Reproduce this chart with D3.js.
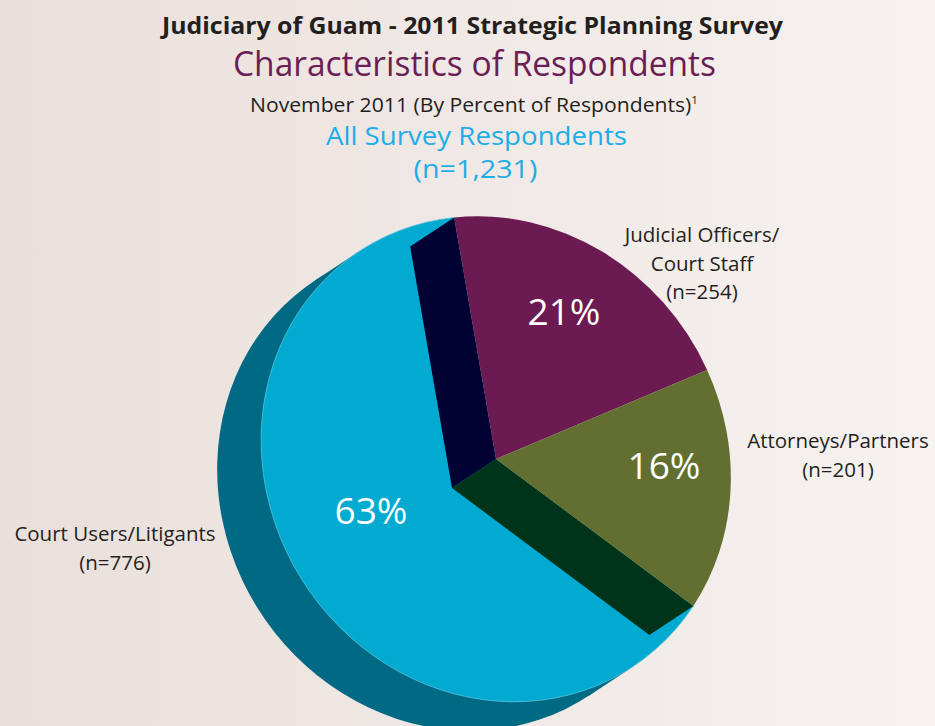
<meta charset="utf-8">
<head>
  <script src="https://d3js.org/d3.v7.min.js"></script>
  <style>
    body { margin: 0; background: #f1ebe8; }
    svg { display: block; }
    text { font-family: "Open Sans", "Noto Sans", sans-serif; }
  </style>
</head>
<body>
  <svg id="svg" width="935" height="726"></svg>
  <script>
    // data, in the order the pie runs clockwise from the top
    const groups = ["Judicial Officers/Court Staff", "Attorneys/Partners", "Court Users/Litigants"];
    const counts = [254, 201, 776];
    const percentLabels = ["21%", "16%", "63%"];
    const nameLines = [
      ["Judicial Officers/", "Court Staff", "(n=254)"],
      ["Attorneys/Partners", "(n=201)"],
      ["Court Users/Litigants", "(n=776)"]
    ];

    const faceColors = ["#6b1a52", "#636f30", "#00aad1"];
    const wallColors = { start: "#000033", end: "#00341a", rim: "#006a84" };

    const width = 935, height = 726;
    const cx = 496, cy = 459, radius = 248.7;
    const tilt = -33.4;           // direction the disk is squashed in (deg)
    const squash = 0.919;
    const depth = -52.7;          // extrusion length along that direction

    const t = tilt * Math.PI / 180;
    const e = [Math.cos(t), Math.sin(t)];
    const w = [-Math.sin(t), Math.cos(t)];
    const d = [depth * e[0], depth * e[1]];

    // pie angle + radius -> screen point, relative to the centre
    function proj(a, r) {
      const x = r * Math.sin(a), y = -r * Math.cos(a);
      const k = (squash - 1) * (e[0] * x + e[1] * y);
      return [x + k * e[0], y + k * e[1]];
    }
    const ellipse = `rotate(${tilt}) scale(${squash},1) rotate(${-tilt})`;

    let svg = d3.select("#svg");

    let grad = svg.append("defs").append("linearGradient")
      .attr("id", "bg").attr("x1", 0).attr("x2", 1).attr("y1", 0).attr("y2", 0);
    grad.append("stop").attr("offset", 0).attr("stop-color", "#eadfda");
    grad.append("stop").attr("offset", 1).attr("stop-color", "#f6f2f0");
    svg.append("rect").attr("width", width).attr("height", height).attr("fill", "url(#bg)");

    // titles
    let head = svg.append("g").attr("text-anchor", "middle");
    head.append("text").attr("x", 472.5).attr("y", 34)
      .attr("font-size", 23).attr("font-weight", 700).attr("fill", "#231f20")
      .attr("textLength", 621).attr("lengthAdjust", "spacingAndGlyphs")
      .text("Judiciary of Guam - 2011 Strategic Planning Survey");
    head.append("text").attr("x", 474.5).attr("y", 76)
      .attr("font-size", 34).attr("fill", "#6b1d55")
      .attr("textLength", 483).attr("lengthAdjust", "spacingAndGlyphs")
      .text("Characteristics of Respondents");
    let nov = head.append("text").attr("x", 474).attr("y", 111.5)
      .attr("font-size", 20).attr("fill", "#231f20")
      .attr("textLength", 448).attr("lengthAdjust", "spacingAndGlyphs");
    nov.append("tspan").text("November 2011 (By Percent of Respondents)");
    nov.append("tspan").attr("dy", -8).attr("font-size", 11).text("1");
    head.append("text").attr("x", 476.5).attr("y", 145)
      .attr("font-size", 26).attr("fill", "#1eade6")
      .attr("textLength", 301).attr("lengthAdjust", "spacingAndGlyphs")
      .text("All Survey Respondents");
    head.append("text").attr("x", 475.5).attr("y", 178)
      .attr("font-size", 26).attr("fill", "#1eade6")
      .attr("textLength", 124).attr("lengthAdjust", "spacingAndGlyphs")
      .text("(n=1,231)");

    // pie
    const start = -8 * Math.PI / 180;
    let pie = d3.pie().sort(null).startAngle(start).endAngle(start + 2 * Math.PI);
    let slices = pie(counts);
    let arc = d3.arc().innerRadius(0).outerRadius(radius);
    let big = slices[2];

    let g = svg.append("g").attr("transform", `translate(${cx},${cy})`);

    // rim of the big slice: back face plus the band joining it to the front
    const A = [-radius * w[0], -radius * w[1]], B = [radius * w[0], radius * w[1]];
    g.append("path")
      .attr("d", d3.line()([A, B, [B[0] + d[0], B[1] + d[1]], [A[0] + d[0], A[1] + d[1]]]))
      .attr("fill", wallColors.rim);
    g.append("g").attr("transform", `translate(${d[0]},${d[1]}) ${ellipse}`)
      .append("path").attr("d", arc(big)).attr("fill", wallColors.rim);

    // front face of the big slice
    g.append("g").attr("transform", ellipse)
      .append("path").attr("d", arc(big)).attr("fill", faceColors[2])
      .attr("stroke", "#5cc4de").attr("stroke-width", 0.8);

    // side walls
    const P1 = proj(slices[0].startAngle, radius);
    const P2 = proj(slices[1].endAngle, radius);
    g.append("path")
      .attr("d", d3.line()([P1, [0, 0], d, [P1[0] + d[0], P1[1] + d[1]]]))
      .attr("fill", wallColors.start);
    g.append("path")
      .attr("d", d3.line()([P2, [0, 0], d, [P2[0] + d[0], P2[1] + d[1]]]))
      .attr("fill", wallColors.end);

    // the two smaller slices
    g.append("g").attr("transform", ellipse)
      .selectAll("path")
      .data(slices.slice(0, 2))
      .enter().append("path")
      .attr("d", arc)
      .attr("fill", (s, i) => faceColors[i]);

    // percent labels
    const pctPos = [[564, 325], [664, 479], [371, 524]];
    svg.append("g").attr("text-anchor", "middle")
      .selectAll("text")
      .data(percentLabels)
      .enter().append("text")
      .attr("x", (s, i) => pctPos[i][0])
      .attr("y", (s, i) => pctPos[i][1])
      .attr("font-size", 37).attr("fill", "#ffffff")
      .text(s => s);

    // outside category labels
    const namePos = [[702, 242], [838, 448], [115, 541]];
    let names = svg.append("g").attr("text-anchor", "middle")
      .attr("font-size", 20.5).attr("fill", "#231f20");
    nameLines.forEach((lines, i) => {
      let tx = names.append("text").attr("y", namePos[i][1]);
      lines.forEach((line, j) => {
        tx.append("tspan").attr("x", namePos[i][0]).attr("dy", j ? 28.5 : 0).text(line);
      });
    });
  </script>
</body>
